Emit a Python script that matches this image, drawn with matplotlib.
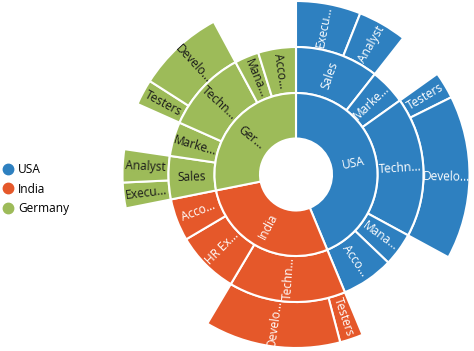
import matplotlib.pyplot as plt
from matplotlib.patches import Wedge
from matplotlib.lines import Line2D
import numpy as np

# Employee data, one row per leaf (group is '' when the job has no sub groups)
country = ['USA'] * 7 + ['India'] * 4 + ['Germany'] * 7
job = ['Sales', 'Sales', 'Marketing', 'Technical', 'Technical', 'Management', 'Accounts',
       'Technical', 'Technical', 'HR Executives', 'Accounts',
       'Sales', 'Sales', 'Marketing', 'Technical', 'Technical', 'Management', 'Accounts']
group = ['Executive', 'Analyst', '', 'Testers', 'Developers', '', '',
         'Testers', 'Developers', '', '',
         'Executive', 'Analyst', '', 'Testers', 'Developers', '', '']
employees = [53, 40, 40, 22, 134, 37, 58,
             19, 111, 70, 47,
             21, 27, 38, 21, 71, 27, 42]

countries = ['USA', 'India', 'Germany']
colors = {'USA': '#2E80C0', 'India': '#E5582A', 'Germany': '#9DBB59'}
text_colors = {'USA': 'white', 'India': 'white', 'Germany': '#1a1a1a'}

# labels as they are cut to fit the ring
short = {'Germany': 'Ger...', 'Executive': 'Execu...', 'Marketing': 'Marke...',
         'Technical': 'Techn...', 'Developers': 'Develo...', 'Management': 'Mana...',
         'Accounts': 'Acco...', 'HR Executives': 'HR Ex...'}

plt.rcParams['font.family'] = ['Open Sans', 'DejaVu Sans']

fig = plt.figure(figsize=(4.74, 3.51), dpi=100)
ax = fig.add_axes([0, 0, 1, 1])
ax.set_xlim(0, 474)
ax.set_ylim(0, 351)
ax.set_aspect('equal')
ax.axis('off')

cx, cy = 296, 351 - 174.5
radii = [36, 81.5, 127.5, 173.5]
deg = 360.0 / sum(employees)


def draw(start, size, level, name, who):
    r_in, r_out = radii[level], radii[level + 1]
    a0, a1 = start * deg, (start + size) * deg
    ax.add_patch(Wedge((cx, cy), r_out, 90 - a1, 90 - a0, width=r_out - r_in,
                       facecolor=colors[who], edgecolor='white', linewidth=1.5))
    theta = np.radians(90 - (a0 + a1) / 2)
    rm = (r_in + r_out) / 2
    rot = np.degrees(theta)
    if np.cos(theta) < 0:
        rot += 180
    ax.text(cx + rm * np.cos(theta), cy + rm * np.sin(theta), short.get(name, name),
            rotation=rot, rotation_mode='anchor', ha='center', va='center',
            fontsize=8.6, color=text_colors[who])


pos = 0
i = 0
while i < len(employees):
    c = country[i]
    c_start = pos
    while i < len(employees) and country[i] == c:
        j = job[i]
        j_start = pos
        while i < len(employees) and country[i] == c and job[i] == j:
            if group[i]:
                draw(pos, employees[i], 2, group[i], c)
            pos += employees[i]
            i += 1
        draw(j_start, pos - j_start, 1, j, c)
    draw(c_start, pos - c_start, 0, c, c)

handles = [Line2D([], [], marker='o', linestyle='', markersize=7.5,
                  markerfacecolor=colors[c], markeredgecolor=colors[c]) for c in countries]
ax.legend(handles, countries, loc='upper left', bbox_to_anchor=(-0.004, 0.548),
          frameon=False, fontsize=8.6, handlelength=0.8, handletextpad=0.45,
          labelspacing=0.52, borderaxespad=0)

fig.savefig('out.png', dpi=100)
